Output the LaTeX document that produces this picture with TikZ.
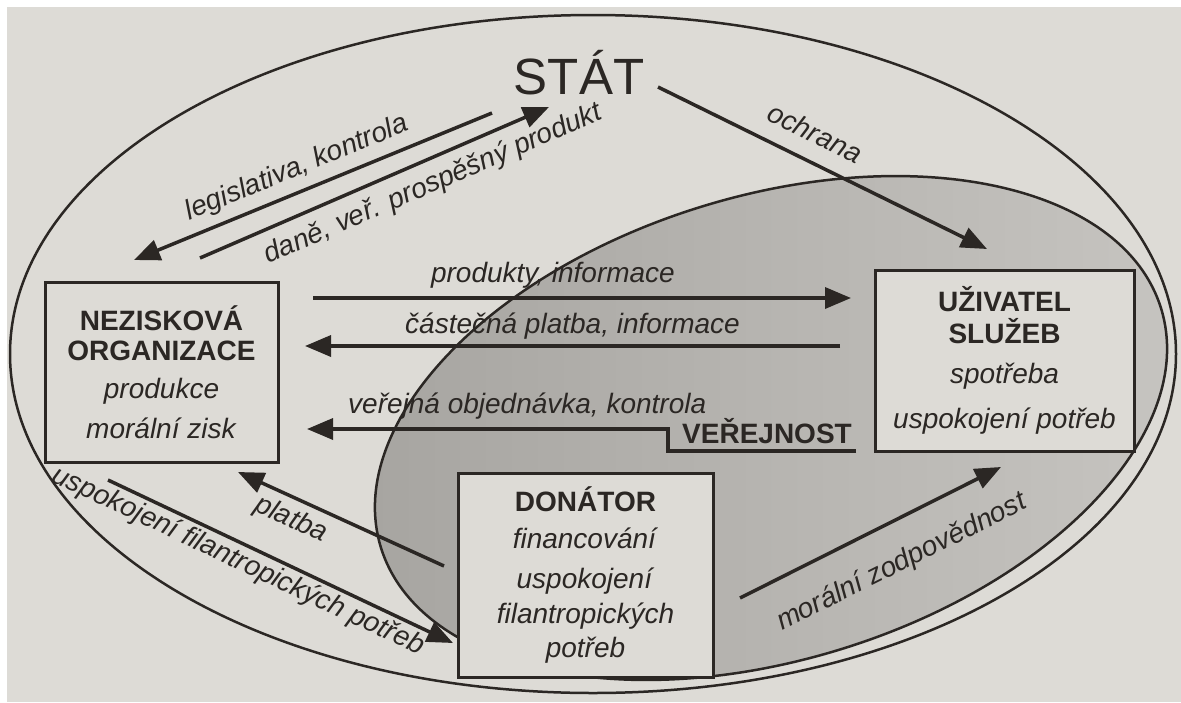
\documentclass[tikz,border=0pt]{standalone}
\usepackage{fontspec}
\setmainfont{Liberation Sans}
\usetikzlibrary{arrows.meta}
\definecolor{page}{HTML}{DDDBD6}
\definecolor{ink}{HTML}{2B2724}
\definecolor{shadeL}{HTML}{A6A4A0}
\definecolor{shadeR}{HTML}{C7C5C1}
\begin{document}
\begin{tikzpicture}[x=1pt,y=-1pt,
  every node/.style={text=ink, inner sep=0pt, font=\fontsize{28}{31}\selectfont},
  actor/.style={draw=ink, line width=3pt, fill=page, align=center},
  flow/.style={draw=ink, line width=3.5pt, -{Triangle[length=26pt,width=21pt]}},
  lbl/.style={font=\fontsize{28}{31}\selectfont\itshape, sloped},
  ring/.style={draw=ink, line width=2.5pt}
]
\useasboundingbox (0,0) rectangle (1181,702);
\fill[white] (0,0) rectangle (1181,702);
\fill[page] (7,7) rectangle (1181,702);

% whole system and the public sphere
\draw[ring] (593,354) ellipse [x radius=583, y radius=339];
\begin{scope}[shift={(771,428)}, rotate=17]
  \draw[ring, left color=shadeL, right color=shadeR] (0,0) ellipse [x radius=408, y radius=232];
\end{scope}

% actors
\node[font=\fontsize{51}{56}\selectfont, anchor=base] (stat) at (579,94) {STÁT};
\node[actor, minimum width=233pt, minimum height=180pt] (nez) at (161.5,372)
  {\textbf{NEZISKOVÁ}\\[-1pt]\textbf{ORGANIZACE}\\[7pt]\textit{produkce}\\[9pt]\textit{morální zisk}};
\node[actor, minimum width=259pt, minimum height=181pt] (uz) at (1004.5,360.5)
  {\textbf{UŽIVATEL}\\[1pt]\textbf{SLUŽEB}\\[9pt]\textit{spotřeba}\\[14pt]\textit{uspokojení potřeb}};
\node[actor, minimum width=255pt, minimum height=204pt] (don) at (585.5,575)
  {\textbf{DONÁTOR}\\[6pt]\textit{financování}\\[9pt]\textit{uspokojení}\\[4pt]\textit{filantropických}\\[3pt]\textit{potřeb}};
\node[font=\fontsize{28}{31}\selectfont\bfseries, anchor=base] (ver) at (767,443) {VEŘEJNOST};

% arrow ends
\coordinate (legA) at (492,113);  \coordinate (legB) at (134,260);
\coordinate (danA) at (200,258);  \coordinate (danB) at (549,107);
\coordinate (ochA) at (658,87);   \coordinate (ochB) at (987,249);
\coordinate (proA) at (313,298);  \coordinate (proB) at (851,298);
\coordinate (casA) at (840,346);  \coordinate (casB) at (305,346);
\coordinate (verA) at (856,451);  \coordinate (verK) at (668,451);
\coordinate (verL) at (668,429);  \coordinate (verB) at (307,429);
\coordinate (plaA) at (444,566);  \coordinate (plaB) at (238,472);
\coordinate (uspA) at (108,480);  \coordinate (uspB) at (453,643);
\coordinate (morA) at (740,598);  \coordinate (morB) at (1001,467);

% flows
\draw[flow] (legA) -- node[lbl, pos=.52, above=8pt] {legislativa, kontrola} (legB);
\draw[flow] (danA) -- node[lbl, pos=.64, below=10pt] {daně, veř. prospěšný produkt} (danB);
\draw[flow] (ochA) -- node[lbl, pos=.44, above=16pt] {ochrana} (ochB);
\draw[flow] (proA) -- node[lbl, pos=.446, above=8pt] {produkty, informace} (proB);
\draw[flow] (casA) -- node[lbl, pos=.5, above=5pt] {částečná platba, informace} (casB);
\draw[flow] (verA) -- (verK) -- (verL) -- node[lbl, pos=.39, above=8pt] {veřejná objednávka, kontrola} (verB);
\draw[flow] (plaA) -- node[lbl, pos=.70, below=7pt] {platba} (plaB);
\draw[flow] (uspA) -- node[lbl, pos=.40, below=3pt] {uspokojení filantropických potřeb} (uspB);
\draw[flow] (morA) -- node[lbl, pos=.55, below=26pt] {morální zodpovědnost} (morB);
\end{tikzpicture}
\end{document}
